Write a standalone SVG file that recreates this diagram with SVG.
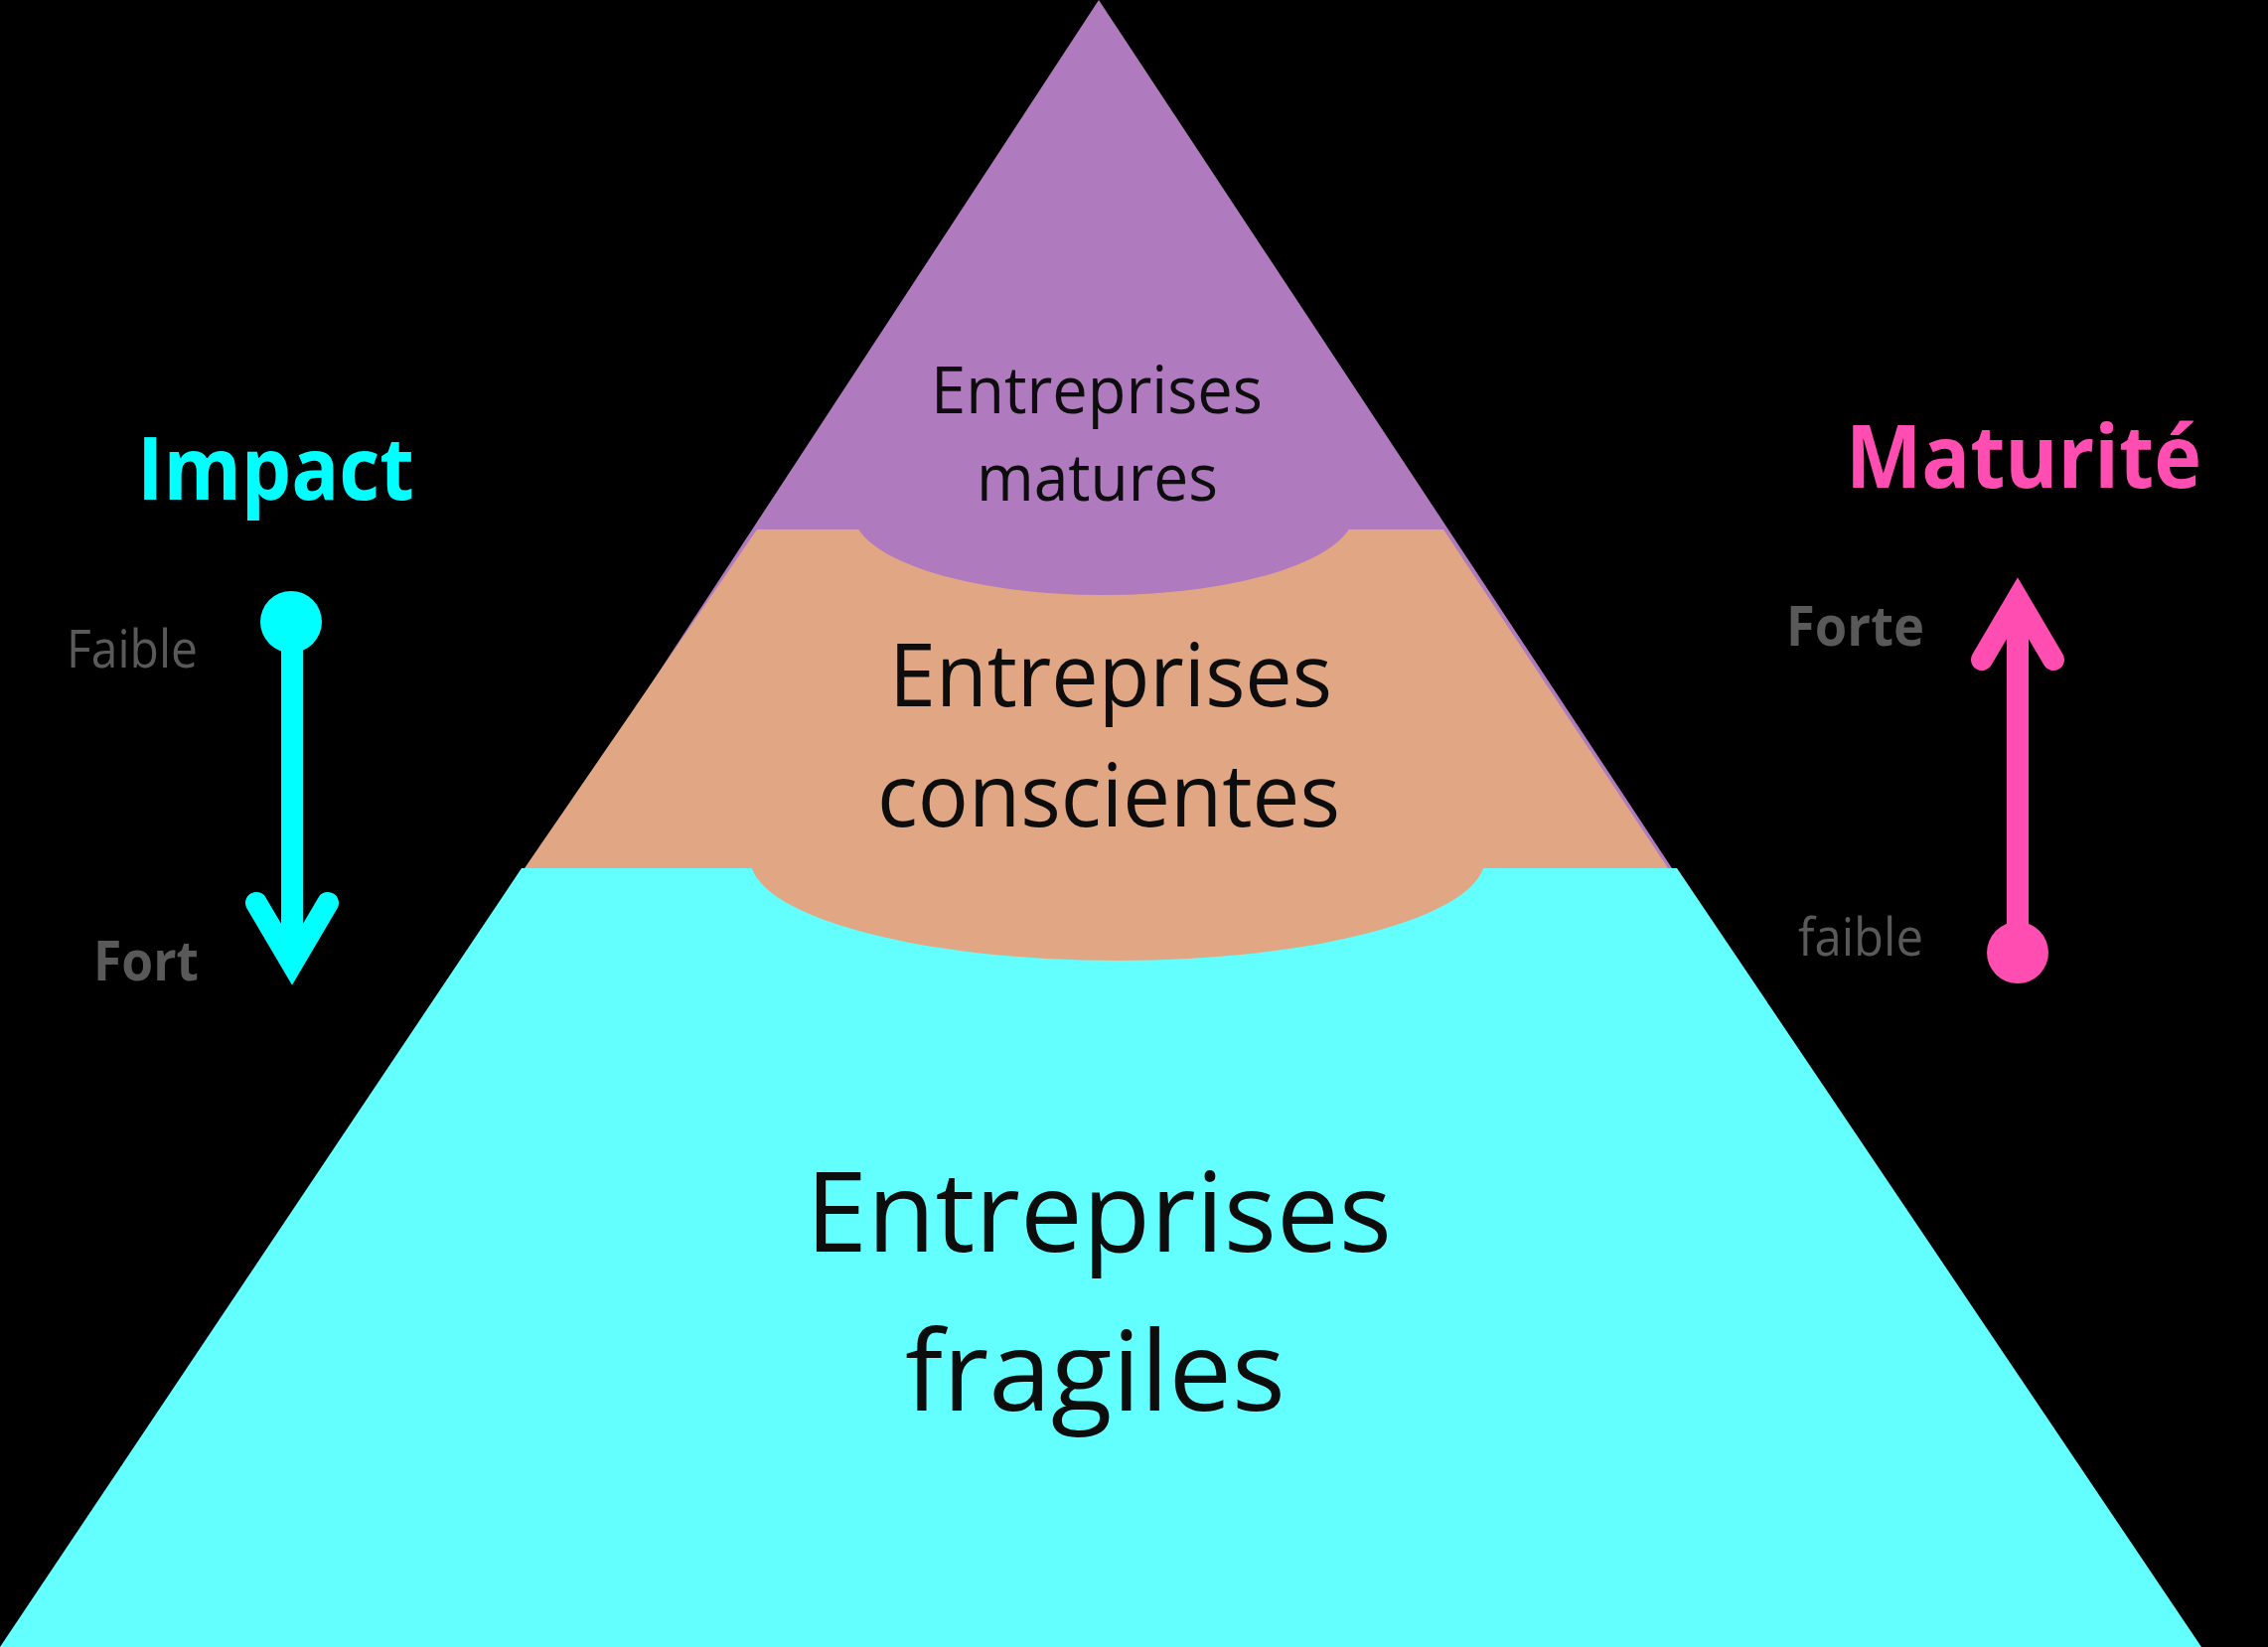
<svg xmlns="http://www.w3.org/2000/svg" width="2283" height="1658" viewBox="0 0 2283 1658">
  <style>
    .lbl { font-family: "Open Sans", "Noto Sans", "DejaVu Sans", sans-serif; fill: #0d0d0d; }
    .axis-title { font-family: "Open Sans", "Noto Sans", "DejaVu Sans", sans-serif; font-weight: bold; font-size: 87px; }
    .gray { font-family: "Open Sans", "Noto Sans", "DejaVu Sans", sans-serif; fill: #595959; }
    .b { font-weight: bold; font-size: 56px; }
    .r { font-size: 53px; }
    .shaft { fill: none; stroke-width: 22; stroke-linecap: butt; }
    .head { fill: none; stroke-width: 22; stroke-linecap: round; stroke-linejoin: miter; stroke-miterlimit: 10; }
  </style>
  <rect x="0" y="0" width="2283" height="1658" fill="#000000"/>

  <g id="layer-mature">
    <polygon points="1106,0 534,874 1683,874" fill="#B07ABE"/>
  </g>
  <g id="layer-conscientes">
    <polygon points="762,533 1453,533 1679,874 528,874" fill="#E1A784"/>
  </g>
  <g id="layer-mature-base">
    <ellipse cx="1111" cy="516" rx="252" ry="83" fill="#B07ABE"/>
    <text class="lbl" x="937" y="416" font-size="66" textLength="334" lengthAdjust="spacingAndGlyphs">Entreprises</text>
    <text class="lbl" x="983" y="504" font-size="66" textLength="243" lengthAdjust="spacingAndGlyphs">matures</text>
  </g>
  <g id="layer-fragiles">
    <polygon points="525,874 1688,874 2216,1658 0,1658" fill="#63FFFF"/>
    <text class="lbl" x="811" y="1260" font-size="112" textLength="590" lengthAdjust="spacingAndGlyphs">Entreprises</text>
    <text class="lbl" x="911" y="1420" font-size="112" textLength="383" lengthAdjust="spacingAndGlyphs">fragiles</text>
  </g>
  <g id="layer-conscientes-base">
    <ellipse cx="1125" cy="864" rx="370" ry="103" fill="#E1A784"/>
    <text class="lbl" x="895" y="711" font-size="87" textLength="446" lengthAdjust="spacingAndGlyphs">Entreprises</text>
    <text class="lbl" x="883" y="832" font-size="87" textLength="466" lengthAdjust="spacingAndGlyphs">conscientes</text>
  </g>

  <g id="axis-impact">
    <text class="axis-title" x="138" y="503" fill="#00FFFF" textLength="279" lengthAdjust="spacingAndGlyphs">Impact</text>
    <text class="gray r" x="67" y="672" textLength="132" lengthAdjust="spacingAndGlyphs">Faible</text>
    <text class="gray b" x="94" y="987" textLength="106" lengthAdjust="spacingAndGlyphs">Fort</text>
  </g>
  <g id="axis-maturite">
    <text class="axis-title" x="1858" y="491" fill="#FF4DB2" textLength="358" lengthAdjust="spacingAndGlyphs">Maturité</text>
    <text class="gray b" x="1798" y="650" textLength="139" lengthAdjust="spacingAndGlyphs">Forte</text>
    <text class="gray r" x="1810" y="962" textLength="126" lengthAdjust="spacingAndGlyphs">faible</text>
  </g>

  <g id="connectors">
    <g id="arrow-impact" stroke="#00FFFF">
      <circle cx="293" cy="626" r="31" fill="#00FFFF" stroke="none"/>
      <line class="shaft" x1="294" y1="626" x2="294" y2="972"/>
      <polyline class="head" points="258,909 294,970 330,909"/>
    </g>
    <g id="arrow-maturite" stroke="#FF4DB2">
      <circle cx="2031" cy="959" r="31" fill="#FF4DB2" stroke="none"/>
      <line class="shaft" x1="2031" y1="959" x2="2031" y2="601"/>
      <polyline class="head" points="1995,664 2031,603 2067,664"/>
    </g>
  </g>
</svg>
